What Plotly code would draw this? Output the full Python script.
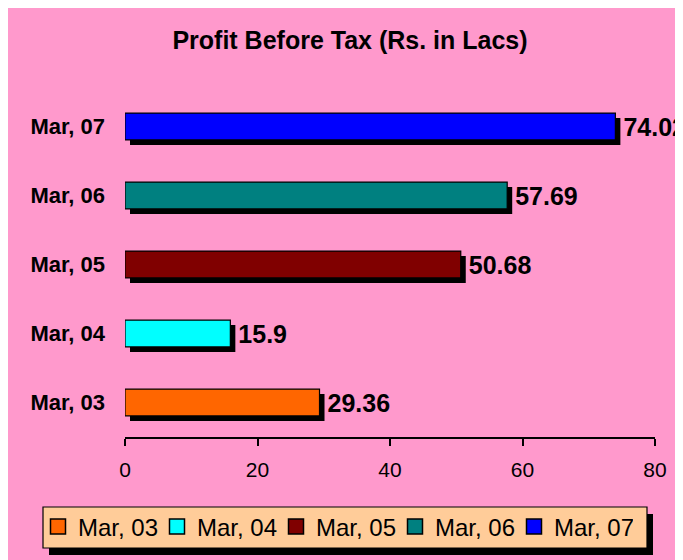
import plotly.graph_objects as go

# data
years = ['Mar, 03', 'Mar, 04', 'Mar, 05', 'Mar, 06', 'Mar, 07']
pbt = [29.36, 15.9, 50.68, 57.69, 74.02]
labels = ['29.36', '15.9', '50.68', '57.69', '74.02']
colors = ['#FF6600', '#00FFFF', '#800000', '#008080', '#0000FF']
x_ticks = [0, 20, 40, 60, 80]

# the page puts the figure 8px in from the corner
W, H = 675, 552
L, T = 117, 84
pw, ph = 530, 345
R, B = W - L - pw, H - T - ph

def px_x(p):
    return (p - L) / pw

def px_y(p):
    return 1 - (p - T) / ph

FONT = 'Arial, Liberation Sans, sans-serif'
pink = '#FF99CC'
idx = list(range(len(years)))
ux = pw / 80.0   # px per unit
uy = ph / 5.0

fig = go.Figure()

# bar shadows (5px right, 5px down)
sx, sy = 5 / ux, 5 / uy
fig.add_trace(go.Bar(
    y=[i - sy for i in idx], x=pbt, base=sx, orientation='h', width=0.39,
    marker=dict(color='black', line=dict(width=0)), showlegend=False, hoverinfo='skip'))

fig.add_trace(go.Bar(
    y=idx, x=pbt, orientation='h', width=0.39, showlegend=False,
    marker=dict(color=colors, line=dict(color='black', width=1.2))))

# value labels
fig.add_trace(go.Scatter(
    y=[i - 3 / uy for i in idx], x=[v + 8 / ux for v in pbt], text=['<b>%s</b>' % t for t in labels],
    mode='text', textposition='middle right',
    textfont=dict(family=FONT, size=25, color='black'), showlegend=False, cliponaxis=False))

# legend entries
for yr, c in zip(years, colors):
    fig.add_trace(go.Scatter(
        x=[None], y=[None], mode='markers', name=yr,
        marker=dict(symbol='square', size=15, color=c, line=dict(color='black', width=1.5))))

shapes = [
    # legend shadow and box
    dict(type='rect', xref='paper', yref='paper', x0=px_x(41), x1=px_x(645), y0=px_y(547), y1=px_y(506),
         fillcolor='black', line=dict(width=0), layer='below'),
    dict(type='rect', xref='paper', yref='paper', x0=px_x(35), x1=px_x(639), y0=px_y(540), y1=px_y(499),
         fillcolor='#FFCC99', line=dict(color='black', width=1.2), layer='below'),
]

fig.update_layout(
    width=W, height=H,
    margin=dict(l=L, r=R, t=T, b=B, autoexpand=False),
    paper_bgcolor=pink, plot_bgcolor=pink,
    barmode='overlay',
    title=dict(text='<b>Profit Before Tax (Rs. in Lacs)</b>', font=dict(family=FONT, size=25, color='black'),
               x=px_x(342), xref='paper', xanchor='center', y=1 - 32 / H, yanchor='middle'),
    xaxis=dict(range=[0, 80], tickvals=x_ticks, showgrid=False, zeroline=False,
               showline=True, linecolor='black', linewidth=1.5,
               ticks='outside', ticklen=7, tickwidth=1.5, tickcolor='black',
               ticklabelstandoff=6,
               tickfont=dict(family=FONT, size=21, color='black')),
    yaxis=dict(range=[-0.5, 4.5], tickvals=idx, ticktext=['<b>%s</b>' % y for y in years],
               showgrid=False, zeroline=False, showline=False, ticks='',
               ticklabelstandoff=19, tickfont=dict(family=FONT, size=22, color='black')),
    legend=dict(orientation='h', x=px_x(30), xanchor='left', y=px_y(519), yanchor='middle',
                bgcolor='rgba(0,0,0,0)', font=dict(family=FONT, size=24, color='black'),
                entrywidth=74, entrywidthmode='pixels', traceorder='normal'),
    shapes=shapes,
)

fig.write_html('out.html')
